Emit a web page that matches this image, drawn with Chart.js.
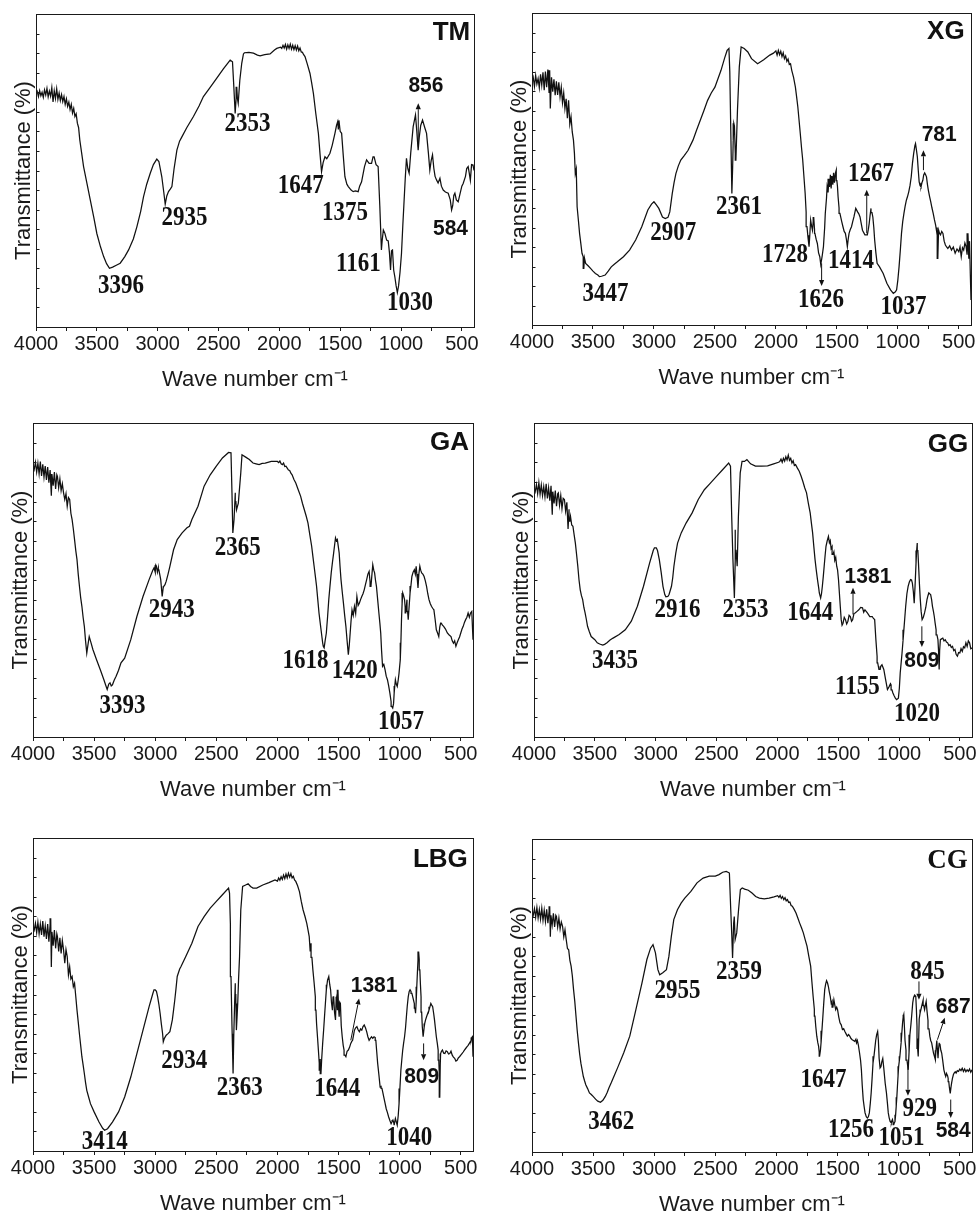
<!DOCTYPE html>
<html><head><meta charset="utf-8">
<script src="https://cdn.jsdelivr.net/npm/chart.js@4.4.1/dist/chart.umd.min.js"></script>
<style>
html,body{margin:0;padding:0;background:#fff;overflow:hidden;}
#fig{position:relative;width:978px;height:1215px;overflow:hidden;background:#fff;}
#fig canvas{position:absolute;}
</style></head><body><div id="fig"></div>
<script>
// ---------- spectra: [wave number, transmittance (arbitrary units, 0-80)] ----------
const tmSpectrum = [[4000,59.5],[3990,60.2],[3980,58.9],[3970,60.4],[3960,59.1],[3950,60.0],[3940,58.7],[3930,60.6],[3920,59.3],[3910,61.0],[3900,58.8],[3890,60.3],[3880,59.0],[3870,61.2],[3860,57.5],[3850,60.4],[3840,58.4],[3830,60.9],[3820,58.2],[3810,59.8],[3800,57.9],[3790,59.4],[3780,57.6],[3770,58.9],[3760,56.9],[3750,58.3],[3740,56.4],[3730,57.5],[3720,55.6],[3710,56.9],[3700,54.7],[3690,55.9],[3680,53.8],[3670,54.5],[3660,52.1],[3650,51.0],[3640,47.8],[3625,44.5],[3609,41.0],[3580,36.5],[3554,32.5],[3525,28.0],[3500,23.9],[3470,20.5],[3444,18.0],[3420,16.2],[3396,15.0],[3370,15.3],[3340,15.8],[3308,16.3],[3270,18.0],[3239,19.7],[3200,22.5],[3171,25.6],[3140,29.5],[3116,33.3],[3090,36.5],[3061,39.3],[3035,41.5],[3007,42.9],[2990,42.3],[2966,38.4],[2950,34.5],[2938,31.4],[2925,33.5],[2911,34.6],[2895,35.3],[2883,35.9],[2865,40.5],[2842,45.2],[2820,47.5],[2801,48.6],[2760,51.0],[2706,53.8],[2660,56.5],[2624,58.9],[2570,61.2],[2514,63.6],[2460,66.0],[2404,68.2],[2385,67.8],[2375,62.0],[2363,54.6],[2355,58.5],[2350,61.4],[2345,58.5],[2338,57.2],[2325,63.0],[2309,67.4],[2295,69.8],[2287,70.1],[2250,70.2],[2213,70.0],[2180,69.5],[2158,69.3],[2120,69.6],[2076,69.8],[2040,70.8],[2021,71.2],[1990,71.5],[1980,71.2],[1970,72.0],[1960,71.3],[1950,72.2],[1940,71.0],[1930,72.1],[1920,71.2],[1910,72.3],[1900,71.0],[1890,72.0],[1880,70.9],[1870,71.9],[1860,70.8],[1850,71.8],[1840,70.6],[1830,71.3],[1820,70.3],[1810,70.2],[1800,69.6],[1789,69.1],[1770,67.2],[1748,64.8],[1735,62.5],[1720,59.7],[1700,54.5],[1679,49.5],[1665,44.0],[1653,39.7],[1640,42.0],[1625,43.5],[1610,43.0],[1584,44.4],[1565,46.5],[1543,49.5],[1530,51.5],[1520,52.5],[1515,50.5],[1510,52.8],[1500,50.0],[1488,49.5],[1475,44.0],[1461,38.4],[1445,36.5],[1433,35.9],[1410,35.0],[1393,34.6],[1375,34.8],[1352,34.6],[1340,36.0],[1324,37.1],[1300,41.0],[1283,42.7],[1262,41.8],[1242,41.8],[1230,43.5],[1221,43.5],[1205,41.5],[1188,41.0],[1174,30.8],[1161,19.7],[1155,22.0],[1145,24.8],[1133,24.0],[1118,22.2],[1105,22.0],[1095,19.0],[1086,14.6],[1078,19.5],[1070,19.7],[1060,14.5],[1051,12.9],[1040,10.5],[1030,8.8],[1020,10.5],[1008,14.0],[996,18.8],[985,26.0],[977,30.8],[965,38.0],[955,43.1],[944,40.5],[933,39.3],[920,44.5],[900,51.2],[881,54.2],[870,50.0],[859,45.2],[850,48.5],[838,51.5],[823,52.9],[805,51.0],[790,49.5],[775,44.5],[763,40.1],[752,42.5],[741,44.0],[730,40.5],[720,38.5],[708,37.6],[695,36.8],[680,38.0],[668,36.0],[653,35.0],[635,34.5],[612,34.2],[595,32.5],[584,29.9],[575,31.0],[566,33.6],[557,34.2],[545,32.5],[530,32.0],[515,34.0],[500,36.0],[489,36.7],[470,38.5],[460,40.5],[448,41.0],[440,39.5],[430,37.5],[420,41.5],[408,41.4],[400,40.0]];

const xgSpectrum = [[4000,62.3],[3990,63.5],[3980,61.2],[3970,64.0],[3960,61.8],[3950,63.2],[3940,60.8],[3930,64.3],[3920,61.5],[3910,64.8],[3900,60.2],[3890,65.0],[3880,61.0],[3870,65.5],[3860,59.5],[3855,65.3],[3850,55.5],[3840,63.5],[3830,59.8],[3820,63.0],[3810,58.9],[3800,62.5],[3790,59.0],[3780,62.2],[3770,58.5],[3760,61.0],[3750,57.0],[3740,59.5],[3730,55.5],[3720,58.0],[3710,53.0],[3700,57.6],[3690,51.5],[3680,53.4],[3670,49.5],[3660,47.4],[3652,44.0],[3645,38.8],[3637,40.0],[3630,30.3],[3620,27.0],[3610,23.5],[3600,21.0],[3590,18.4],[3580,17.5],[3575,14.5],[3570,17.2],[3560,15.8],[3540,15.2],[3520,14.5],[3500,13.8],[3480,13.2],[3460,12.8],[3447,12.4],[3430,12.5],[3400,12.8],[3375,13.8],[3350,14.9],[3325,15.6],[3300,16.2],[3250,17.5],[3200,19.2],[3150,21.8],[3100,25.2],[3050,29.5],[3020,31.0],[3000,31.6],[2980,30.8],[2960,29.9],[2930,27.7],[2907,27.3],[2885,27.6],[2870,29.0],[2850,33.7],[2835,36.5],[2820,38.8],[2800,40.8],[2780,42.3],[2750,43.5],[2720,44.8],[2680,47.4],[2650,50.0],[2620,52.5],[2590,55.0],[2560,57.6],[2530,59.5],[2500,61.0],[2450,65.3],[2420,68.5],[2400,70.4],[2385,70.9],[2378,65.0],[2370,50.0],[2361,33.7],[2355,40.0],[2350,47.4],[2345,51.7],[2340,51.0],[2333,44.0],[2328,42.3],[2315,55.1],[2300,66.2],[2285,71.3],[2260,70.9],[2230,70.0],[2200,68.3],[2150,67.0],[2100,68.0],[2050,69.2],[2020,69.7],[2000,70.3],[1990,69.2],[1980,70.4],[1970,69.3],[1960,70.2],[1950,68.8],[1940,69.8],[1930,68.3],[1920,69.0],[1910,67.6],[1900,68.2],[1890,66.8],[1880,67.0],[1870,65.3],[1855,63.5],[1840,61.0],[1830,58.5],[1820,55.9],[1810,52.5],[1800,49.1],[1790,45.5],[1780,42.3],[1770,38.0],[1760,33.7],[1752,29.0],[1745,25.2],[1737,22.5],[1728,20.1],[1722,23.0],[1715,26.9],[1708,25.5],[1700,24.3],[1694,26.5],[1690,27.7],[1683,24.5],[1680,23.5],[1670,22.0],[1660,20.9],[1650,18.5],[1640,17.5],[1632,15.5],[1626,16.6],[1620,17.8],[1610,20.1],[1600,25.0],[1595,28.6],[1585,32.5],[1580,35.4],[1572,34.0],[1565,37.5],[1560,35.4],[1553,38.5],[1547,35.0],[1540,38.2],[1533,36.0],[1527,39.0],[1520,36.5],[1513,38.8],[1505,39.7],[1500,37.0],[1495,35.5],[1490,32.9],[1482,30.0],[1475,28.6],[1460,26.5],[1450,25.2],[1440,24.0],[1430,23.5],[1422,22.0],[1414,20.1],[1407,22.0],[1400,23.5],[1390,24.5],[1380,25.2],[1370,26.5],[1360,27.7],[1345,29.9],[1330,29.0],[1320,28.5],[1310,27.7],[1300,26.0],[1290,24.3],[1270,23.1],[1250,23.1],[1242,24.5],[1235,26.0],[1228,28.0],[1220,29.9],[1212,28.8],[1205,27.7],[1197,25.0],[1190,21.8],[1180,18.5],[1170,15.8],[1150,14.9],[1120,13.2],[1090,10.7],[1060,9.0],[1037,8.1],[1020,8.5],[1010,9.0],[1000,11.5],[990,14.9],[980,19.0],[970,23.5],[960,26.5],[950,28.6],[940,30.5],[930,32.0],[920,33.0],[910,34.2],[900,35.8],[890,38.0],[880,41.5],[870,44.0],[860,46.0],[855,46.5],[848,45.0],[840,43.1],[832,39.5],[825,36.7],[818,35.8],[810,35.4],[802,36.5],[795,37.1],[788,38.5],[780,39.0],[772,38.5],[765,38.0],[757,36.0],[750,34.6],[740,33.0],[730,31.6],[720,30.0],[710,28.6],[700,27.0],[690,25.6],[682,24.0],[677,25.0],[672,17.1],[668,22.0],[665,24.3],[658,23.5],[650,23.1],[640,24.0],[630,23.5],[620,21.5],[610,20.5],[600,20.0],[590,19.6],[575,20.3],[560,19.2],[545,20.0],[530,18.4],[515,19.5],[500,18.8],[490,20.0],[480,17.5],[470,19.8],[460,19.2],[450,21.0],[440,20.1],[432,18.0],[425,23.5],[418,17.0],[412,21.5],[405,12.4],[400,6.4]];

const gaSpectrum = [[4000,69.4],[3990,68.2],[3980,70.0],[3970,67.5],[3960,69.8],[3950,67.0],[3940,70.2],[3930,66.5],[3920,69.5],[3910,66.2],[3900,69.0],[3890,65.5],[3880,68.8],[3870,64.8],[3860,68.0],[3850,61.5],[3845,67.0],[3835,64.0],[3825,67.5],[3815,63.2],[3805,66.8],[3800,66.4],[3790,63.5],[3780,65.8],[3770,62.8],[3760,64.5],[3750,62.2],[3740,60.5],[3730,62.0],[3720,58.8],[3710,61.0],[3700,60.5],[3690,57.0],[3680,55.4],[3670,53.0],[3660,50.3],[3650,47.5],[3640,45.2],[3630,41.5],[3620,38.4],[3610,35.5],[3600,33.3],[3590,30.5],[3580,28.2],[3570,24.5],[3560,21.4],[3548,24.0],[3540,25.6],[3525,24.0],[3510,22.3],[3480,19.7],[3450,17.2],[3420,14.6],[3405,13.2],[3393,12.1],[3380,13.5],[3370,13.8],[3360,13.0],[3350,13.3],[3335,14.5],[3320,15.5],[3300,17.0],[3280,18.9],[3250,20.1],[3200,24.8],[3150,30.7],[3100,35.8],[3050,40.1],[3020,42.5],[3010,43.1],[3000,42.0],[2995,43.8],[2990,43.5],[2982,42.0],[2975,43.0],[2970,42.6],[2955,40.1],[2943,35.8],[2935,38.0],[2930,38.4],[2920,38.8],[2910,39.7],[2895,41.5],[2880,43.5],[2850,47.7],[2820,50.3],[2780,52.0],[2740,53.3],[2720,53.7],[2700,55.4],[2650,58.8],[2600,63.9],[2550,66.8],[2500,69.0],[2450,71.1],[2400,72.5],[2380,72.4],[2372,62.2],[2365,52.0],[2355,55.4],[2345,62.2],[2340,60.0],[2335,57.9],[2320,59.6],[2300,67.3],[2290,71.9],[2260,71.3],[2230,70.7],[2200,69.8],[2175,69.6],[2150,69.4],[2125,69.7],[2100,69.8],[2050,70.2],[2000,70.2],[1990,69.9],[1980,70.3],[1970,69.6],[1960,69.4],[1950,69.8],[1940,68.9],[1930,69.0],[1920,68.5],[1910,68.0],[1900,67.9],[1890,67.2],[1880,66.8],[1865,65.6],[1850,64.7],[1830,63.0],[1810,61.3],[1795,59.5],[1780,57.9],[1765,56.3],[1750,54.5],[1735,51.5],[1720,48.6],[1710,46.0],[1700,43.5],[1690,41.0],[1680,38.4],[1670,35.0],[1660,31.6],[1650,29.0],[1640,26.5],[1630,24.0],[1625,23.1],[1618,22.7],[1610,24.5],[1600,26.5],[1590,30.5],[1580,35.0],[1570,38.5],[1560,41.8],[1550,44.5],[1540,46.9],[1530,49.5],[1525,50.7],[1518,50.0],[1510,50.3],[1502,48.5],[1495,46.9],[1488,43.5],[1480,40.1],[1470,37.0],[1460,34.1],[1450,31.0],[1440,28.2],[1430,24.5],[1420,21.0],[1412,23.5],[1405,26.5],[1398,29.5],[1390,32.4],[1380,31.0],[1370,33.3],[1360,31.5],[1350,35.8],[1340,33.5],[1330,34.1],[1320,35.0],[1310,35.8],[1300,36.5],[1290,37.5],[1280,38.8],[1270,40.1],[1260,41.5],[1250,42.2],[1242,39.5],[1235,38.4],[1228,41.0],[1220,43.9],[1212,42.5],[1205,41.8],[1198,40.0],[1190,38.4],[1180,35.0],[1170,31.6],[1162,29.0],[1155,26.5],[1148,22.0],[1140,18.0],[1130,18.5],[1120,17.2],[1110,15.5],[1100,14.6],[1090,13.0],[1080,11.2],[1070,9.0],[1065,7.8],[1057,7.4],[1050,8.5],[1045,11.2],[1040,13.0],[1035,14.6],[1028,13.5],[1020,12.9],[1012,14.5],[1005,16.3],[995,19.7],[990,24.0],[985,29.9],[980,34.0],[975,36.7],[968,36.0],[960,35.0],[955,33.0],[950,31.6],[945,33.5],[940,35.0],[935,32.0],[930,29.9],[922,33.5],[915,36.7],[908,38.5],[900,40.9],[890,42.0],[880,42.6],[872,41.5],[865,43.5],[858,41.0],[850,38.0],[843,41.5],[835,43.5],[828,42.5],[820,41.8],[810,41.5],[800,40.9],[790,39.8],[780,38.4],[770,36.5],[760,35.0],[750,34.0],[740,33.3],[730,32.8],[720,32.4],[710,30.0],[700,27.3],[690,26.5],[680,25.6],[672,28.0],[665,29.0],[660,29.0],[650,28.5],[640,28.2],[625,27.5],[610,26.5],[595,26.0],[580,25.6],[570,24.5],[560,23.9],[550,24.5],[540,23.1],[530,24.0],[520,24.8],[510,25.5],[500,26.5],[490,27.5],[480,28.2],[470,29.2],[460,29.9],[450,30.5],[440,31.6],[430,30.5],[420,31.6],[410,32.0],[400,24.8]];

const ggSpectrum = [[4000,63.4],[3990,62.5],[3980,64.3],[3970,62.0],[3960,64.8],[3950,61.8],[3940,64.2],[3930,61.5],[3920,63.8],[3910,61.2],[3900,64.5],[3890,60.8],[3880,63.5],[3870,60.2],[3860,64.0],[3850,56.6],[3845,62.5],[3835,59.5],[3825,62.8],[3815,58.8],[3805,62.0],[3800,62.2],[3790,59.0],[3780,61.5],[3770,58.2],[3760,60.8],[3750,60.5],[3740,57.5],[3730,59.8],[3720,53.0],[3712,58.0],[3705,55.0],[3700,56.2],[3690,54.0],[3680,53.7],[3670,51.5],[3660,49.4],[3650,46.5],[3640,43.5],[3630,40.0],[3620,37.5],[3610,36.0],[3600,35.0],[3590,33.0],[3580,31.6],[3570,30.0],[3560,28.2],[3545,26.8],[3530,25.6],[3500,24.8],[3480,24.0],[3460,23.7],[3435,23.4],[3420,23.6],[3400,24.0],[3375,24.7],[3350,25.2],[3300,26.1],[3250,27.3],[3200,29.5],[3150,33.3],[3100,38.4],[3050,44.3],[3020,47.5],[3010,48.2],[2995,48.2],[2985,47.5],[2970,45.2],[2955,42.0],[2940,38.4],[2925,36.3],[2916,35.7],[2900,35.8],[2890,36.3],[2870,38.4],[2860,40.5],[2850,43.5],[2835,46.8],[2820,49.4],[2790,52.0],[2750,54.5],[2700,57.1],[2650,60.5],[2600,63.0],[2550,64.7],[2500,66.4],[2450,68.1],[2400,69.8],[2385,69.0],[2375,56.2],[2365,45.2],[2353,35.4],[2347,45.0],[2345,52.8],[2340,47.7],[2330,43.5],[2320,56.2],[2305,67.3],[2290,70.2],[2270,70.2],[2250,70.7],[2220,69.6],[2180,69.0],[2130,69.0],[2080,69.1],[2030,69.6],[1990,70.0],[1980,70.2],[1970,70.8],[1960,70.0],[1950,71.0],[1940,70.3],[1930,71.4],[1920,70.6],[1910,71.8],[1900,70.5],[1890,71.0],[1880,69.8],[1870,70.4],[1860,69.2],[1850,69.4],[1835,68.5],[1820,67.7],[1805,66.5],[1790,65.1],[1775,63.5],[1760,62.2],[1745,59.5],[1730,57.1],[1720,54.5],[1710,52.0],[1700,48.5],[1690,45.2],[1680,42.5],[1670,40.1],[1660,38.0],[1655,36.7],[1644,35.4],[1637,36.5],[1630,38.4],[1622,41.0],[1615,43.5],[1608,46.0],[1600,48.6],[1590,50.0],[1580,51.1],[1572,49.5],[1565,50.0],[1558,48.0],[1550,48.5],[1543,46.5],[1535,47.2],[1528,45.0],[1520,45.8],[1512,43.5],[1505,42.6],[1497,40.0],[1490,36.7],[1482,33.0],[1475,29.9],[1468,28.5],[1460,29.0],[1450,30.5],[1440,29.9],[1430,28.8],[1420,29.5],[1410,31.0],[1400,30.7],[1390,29.5],[1381,29.9],[1370,31.5],[1360,31.6],[1345,32.0],[1330,32.4],[1315,33.0],[1300,32.9],[1290,31.8],[1280,32.4],[1260,31.6],[1240,30.7],[1220,30.7],[1210,30.2],[1200,29.9],[1190,24.8],[1180,20.5],[1175,18.9],[1165,17.2],[1155,17.2],[1150,18.0],[1140,18.4],[1125,17.2],[1110,14.6],[1095,12.1],[1080,12.9],[1070,13.6],[1065,13.3],[1058,12.0],[1050,11.2],[1040,10.5],[1030,9.9],[1020,9.5],[1005,9.9],[997,12.5],[990,16.3],[982,19.0],[975,21.4],[967,24.5],[960,27.3],[952,30.5],[945,33.3],[935,36.5],[925,38.4],[915,39.5],[905,40.1],[897,40.0],[890,39.2],[882,37.0],[875,34.1],[868,38.5],[860,44.3],[855,47.5],[850,49.4],[845,47.5],[840,44.3],[832,39.0],[825,35.0],[818,32.0],[810,29.9],[800,30.5],[790,31.6],[780,33.0],[770,35.0],[762,36.0],[755,36.7],[748,36.5],[740,36.3],[732,35.0],[725,33.3],[717,32.0],[710,30.7],[703,29.0],[695,27.3],[688,26.0],[680,24.8],[675,22.0],[670,17.2],[666,22.0],[660,24.8],[650,25.0],[640,25.2],[630,24.5],[620,24.8],[610,24.2],[600,24.0],[590,23.3],[580,23.5],[570,22.8],[560,23.1],[550,22.0],[540,22.3],[530,21.0],[520,20.6],[510,21.5],[500,21.4],[490,22.5],[480,21.8],[470,23.0],[460,22.7],[450,24.0],[440,23.1],[430,24.5],[420,24.0],[410,22.5],[400,22.7]];

const lbgSpectrum = [[4000,57.4],[3990,56.5],[3980,58.2],[3970,55.8],[3960,58.5],[3950,55.5],[3940,58.0],[3930,55.2],[3920,58.8],[3910,54.8],[3900,57.5],[3890,54.2],[3880,58.0],[3870,53.5],[3860,57.8],[3855,59.5],[3850,47.0],[3845,56.0],[3835,52.5],[3825,56.5],[3815,51.8],[3805,55.5],[3800,54.8],[3790,51.0],[3780,54.5],[3770,50.5],[3760,53.8],[3750,51.4],[3740,48.0],[3730,51.5],[3720,49.7],[3710,45.0],[3700,47.1],[3690,44.0],[3680,44.6],[3670,42.0],[3660,42.9],[3650,39.5],[3640,36.0],[3630,33.0],[3620,29.9],[3610,27.0],[3600,24.1],[3590,22.0],[3580,19.8],[3570,17.5],[3560,15.5],[3545,13.8],[3530,12.1],[3500,10.0],[3460,7.4],[3430,5.8],[3414,5.3],[3390,5.7],[3350,7.4],[3300,10.0],[3250,13.8],[3200,18.9],[3150,24.9],[3100,30.9],[3050,36.9],[3020,40.2],[3010,41.2],[3000,41.2],[2990,40.8],[2980,39.4],[2970,37.5],[2960,35.2],[2950,32.5],[2940,30.1],[2934,27.9],[2925,28.8],[2910,29.6],[2895,30.0],[2880,30.5],[2870,32.0],[2860,33.5],[2850,36.0],[2840,38.6],[2830,41.5],[2820,44.6],[2800,46.5],[2790,47.1],[2750,49.7],[2700,53.1],[2650,57.4],[2600,59.9],[2550,62.1],[2500,63.8],[2450,65.5],[2400,67.2],[2392,65.9],[2385,58.0],[2380,44.6],[2372,32.0],[2363,19.8],[2357,30.0],[2350,38.0],[2345,42.9],[2341,40.0],[2336,30.9],[2330,34.5],[2325,37.7],[2318,44.0],[2310,49.7],[2300,61.6],[2285,67.6],[2260,68.0],[2240,68.3],[2220,67.6],[2200,67.2],[2170,67.2],[2120,68.0],[2070,68.6],[2020,69.3],[2000,69.0],[1990,69.8],[1980,69.2],[1970,70.1],[1960,69.4],[1950,70.5],[1940,69.6],[1930,70.8],[1920,69.8],[1910,71.0],[1900,70.0],[1890,70.9],[1880,69.8],[1870,70.2],[1860,69.3],[1850,68.9],[1835,67.8],[1820,66.3],[1805,63.8],[1790,61.6],[1775,60.0],[1760,58.2],[1750,56.5],[1740,54.8],[1732,51.0],[1725,53.1],[1718,49.5],[1710,46.3],[1700,43.0],[1690,39.4],[1685,36.0],[1680,32.6],[1672,29.0],[1665,25.8],[1658,22.5],[1655,20.7],[1650,23.5],[1644,19.8],[1638,23.5],[1630,27.5],[1622,31.0],[1615,34.3],[1607,38.0],[1600,41.2],[1595,42.5],[1590,43.7],[1580,44.6],[1572,42.5],[1565,41.2],[1558,38.0],[1550,36.0],[1545,39.5],[1540,39.4],[1533,35.5],[1525,33.5],[1520,38.5],[1515,39.4],[1510,36.0],[1505,41.2],[1500,36.5],[1495,34.3],[1490,38.0],[1485,37.7],[1478,32.0],[1470,29.2],[1462,27.0],[1455,25.8],[1448,24.5],[1440,24.1],[1430,25.5],[1420,25.8],[1410,26.5],[1400,27.5],[1392,28.0],[1385,28.3],[1378,29.5],[1370,30.9],[1360,31.5],[1350,31.8],[1340,31.0],[1330,30.5],[1320,31.2],[1310,30.9],[1300,31.8],[1290,32.2],[1280,31.5],[1270,30.5],[1260,29.2],[1250,28.3],[1240,28.8],[1230,29.2],[1220,28.8],[1210,29.2],[1200,29.0],[1195,28.3],[1188,25.5],[1180,22.4],[1170,19.5],[1160,16.4],[1152,16.5],[1145,16.0],[1138,15.0],[1130,13.8],[1120,12.3],[1110,10.8],[1100,9.8],[1090,8.7],[1080,7.8],[1070,7.0],[1062,7.5],[1055,7.9],[1048,7.2],[1045,6.6],[1040,7.5],[1035,8.3],[1028,7.5],[1020,6.6],[1012,9.0],[1005,12.1],[998,16.0],[990,20.7],[982,23.5],[975,25.8],[968,27.5],[960,29.2],[952,31.5],[945,34.3],[938,37.0],[930,39.4],[922,40.8],[915,41.2],[907,40.8],[900,40.3],[890,39.0],[880,37.7],[875,36.5],[870,35.2],[865,38.0],[860,42.0],[855,45.5],[850,48.8],[845,51.0],[840,49.0],[835,46.3],[830,42.5],[825,39.4],[820,35.5],[815,31.8],[808,29.2],[800,31.5],[795,32.6],[788,33.5],[780,34.3],[770,35.2],[760,36.0],[752,36.9],[745,37.7],[738,37.3],[730,36.9],[722,35.2],[715,33.5],[708,31.5],[700,29.2],[692,27.5],[685,25.8],[680,23.2],[676,20.0],[672,13.8],[668,22.0],[665,24.9],[658,25.5],[650,25.8],[640,25.0],[630,24.9],[620,25.6],[610,25.4],[600,24.8],[590,24.9],[580,25.5],[570,24.5],[560,24.0],[550,23.7],[540,23.0],[530,23.2],[520,23.8],[510,24.1],[500,24.5],[490,24.9],[480,25.3],[470,25.8],[460,26.2],[450,26.6],[440,27.0],[430,27.5],[420,28.0],[415,28.3],[410,29.0],[405,29.2],[400,24.1]];

const cgSpectrum = [[4000,61.5],[3990,60.5],[3980,62.2],[3970,60.0],[3960,62.5],[3950,59.8],[3940,62.0],[3930,59.5],[3920,62.3],[3910,59.2],[3900,61.8],[3890,58.9],[3880,62.0],[3870,58.5],[3860,61.5],[3855,62.8],[3850,55.0],[3845,60.5],[3835,58.0],[3825,61.0],[3815,57.5],[3805,60.5],[3800,60.2],[3790,57.5],[3780,59.8],[3770,57.0],[3760,58.8],[3750,57.7],[3740,55.0],[3730,56.8],[3720,54.3],[3710,52.0],[3700,51.7],[3690,49.0],[3680,47.5],[3670,45.0],[3660,41.5],[3650,38.5],[3640,34.7],[3630,31.0],[3620,27.9],[3610,25.0],[3600,22.7],[3590,21.0],[3580,19.3],[3570,18.2],[3560,17.2],[3545,16.2],[3530,15.1],[3515,14.7],[3500,14.2],[3480,13.5],[3462,13.0],[3440,12.7],[3420,13.2],[3400,14.2],[3385,15.2],[3370,16.4],[3350,17.8],[3330,19.3],[3300,21.5],[3250,25.3],[3200,29.6],[3150,36.4],[3100,43.2],[3060,49.2],[3030,52.1],[3010,53.0],[2990,50.9],[2970,46.6],[2955,45.3],[2930,45.8],[2900,46.6],[2880,50.0],[2860,55.1],[2840,59.4],[2810,61.9],[2780,63.6],[2750,64.9],[2700,66.6],[2650,68.8],[2600,70.0],[2550,70.5],[2500,70.5],[2470,70.9],[2440,71.5],[2410,71.7],[2385,71.3],[2375,62.8],[2365,55.1],[2359,49.6],[2350,58.5],[2345,60.2],[2338,54.3],[2325,56.0],[2310,61.9],[2295,67.1],[2280,67.5],[2260,67.2],[2230,66.9],[2200,66.2],[2170,65.3],[2140,64.9],[2100,64.7],[2060,64.9],[2020,65.2],[1990,65.5],[1980,65.1],[1970,65.6],[1960,64.8],[1950,65.3],[1940,64.5],[1930,65.0],[1920,64.2],[1910,64.5],[1900,63.8],[1890,63.9],[1880,63.0],[1870,62.8],[1855,62.0],[1840,61.1],[1825,59.8],[1810,58.5],[1795,57.3],[1780,56.0],[1765,54.3],[1750,52.6],[1735,50.0],[1720,47.5],[1710,43.5],[1700,39.8],[1690,36.5],[1685,34.7],[1678,32.0],[1670,29.6],[1662,28.0],[1655,27.0],[1650,25.5],[1647,24.5],[1640,26.0],[1635,27.9],[1628,31.0],[1620,34.7],[1612,38.5],[1605,41.5],[1597,43.0],[1590,43.8],[1582,43.2],[1575,42.3],[1568,41.0],[1560,39.8],[1552,38.0],[1545,38.5],[1538,37.0],[1530,38.9],[1522,37.5],[1515,36.4],[1507,37.0],[1500,36.4],[1490,34.5],[1480,33.0],[1470,32.5],[1460,31.3],[1450,31.5],[1440,30.8],[1430,30.2],[1420,29.6],[1410,30.0],[1400,29.6],[1390,29.0],[1380,28.7],[1370,28.5],[1360,28.3],[1350,28.8],[1345,27.9],[1338,28.5],[1330,27.4],[1320,25.3],[1312,23.5],[1305,21.0],[1298,17.0],[1290,13.4],[1282,11.5],[1275,10.0],[1265,9.0],[1256,8.7],[1248,9.0],[1240,10.0],[1232,12.5],[1225,15.1],[1218,18.5],[1210,22.7],[1202,24.5],[1195,26.5],[1188,28.5],[1180,30.0],[1172,30.8],[1166,28.5],[1160,24.0],[1152,21.5],[1145,21.8],[1138,23.0],[1130,23.9],[1122,21.5],[1110,17.5],[1100,15.1],[1092,12.5],[1085,10.0],[1078,8.8],[1070,7.8],[1060,7.4],[1055,8.0],[1051,8.3],[1045,7.5],[1040,7.0],[1035,7.5],[1030,7.8],[1025,9.5],[1020,11.7],[1015,14.0],[1010,16.8],[1005,19.5],[1000,21.9],[995,23.2],[990,24.5],[985,26.2],[980,27.9],[974,30.5],[968,33.0],[963,34.5],[958,35.1],[953,32.0],[948,28.5],[940,26.0],[932,23.5],[922,21.0],[915,25.5],[908,30.0],[900,32.5],[893,35.0],[885,38.1],[878,39.5],[869,40.1],[865,40.0],[860,39.8],[855,36.5],[850,32.1],[845,26.5],[840,24.4],[836,29.0],[832,34.0],[825,35.5],[818,36.4],[810,37.5],[800,38.8],[795,37.5],[788,36.4],[782,37.5],[775,38.5],[768,36.0],[760,33.6],[752,31.5],[745,29.6],[738,28.5],[730,27.9],[722,26.5],[715,25.3],[708,24.5],[700,23.6],[695,26.0],[688,28.5],[683,26.0],[678,24.0],[673,26.5],[668,27.9],[662,27.5],[655,26.0],[648,25.3],[640,23.5],[630,21.0],[622,20.0],[615,19.3],[609,20.1],[600,19.5],[595,18.8],[590,18.0],[585,16.5],[578,15.0],[572,16.5],[567,17.6],[560,18.8],[552,19.8],[545,20.2],[537,20.5],[530,20.2],[520,20.8],[510,20.6],[500,21.2],[490,20.8],[480,21.4],[470,20.6],[460,21.2],[450,20.5],[440,21.0],[430,20.6],[420,21.2],[410,20.4],[400,21.0]];

// ---------- peak labels: [text, wave number, transmittance, style] ----------
const tmLabels = [['3396',3302,10.5,'s'],['2935',2779,27.8,'s'],['2353',2262,51.8,'s'],['1647',1824,35.9,'s'],['1375',1460,29.1,'s'],['1161',1351,16.1,'s'],['1030',927,6.0,'s'],['856',795,61.6,'a'],['584',593,25.0,'a'],['TM',585,75.3,'A']];
const xgLabels = [['3447',3398,7.9,'s'],['2907',2842,23.5,'s'],['2361',2303,30.1,'s'],['1728',1926,17.9,'s'],['1626',1630,6.4,'s'],['1414',1384,16.5,'s'],['1037',954,4.5,'s'],['1267',1220,38.7,'s'],['781',661,48.7,'a'],['XG',606,75.1,'A']];
const gaLabels = [['3393',3267,7.8,'s'],['2943',2864,32.3,'s'],['2365',2325,48.2,'s'],['1618',1770,19.4,'s'],['1420',1367,16.7,'s'],['1057',990,3.7,'s'],['GA',593,74.9,'A']];
const ggLabels = [['3435',3335,19.3,'s'],['2916',2820,32.3,'s'],['2353',2262,32.3,'s'],['1644',1729,31.6,'s'],['1381',1255,40.9,'a'],['1155',1343,12.7,'s'],['1020',853,5.9,'s'],['809',812,19.5,'a'],['GG',598,74.5,'A']];
const lbgLabels = [['3414',3412,2.3,'s'],['2934',2763,23.1,'s'],['2363',2309,16.0,'s'],['1644',1510,15.8,'s'],['1381',1209,42.2,'a'],['1040',921,3.4,'s'],['809',820,19.0,'a'],['LBG',667,74.4,'A']];
const cgLabels = [['3462',3351,7.6,'s'],['2955',2810,41.1,'s'],['2359',2306,46.0,'s'],['1647',1614,18.5,'s'],['1256',1389,5.7,'s'],['1051',976,3.6,'s'],['929',828,11.0,'s'],['845',765,45.9,'s'],['687',554,37.1,'a'],['584',554,5.3,'a'],['CG',601,74.5,'S']];

// ---------- arrows: [from wave, from T, to wave, to T] (head at "to") ----------
const tmArrows = [[858,46.1,858,57.2]];
const xgArrows = [[1625,15.8,1625,10.0],[1255,23.5,1255,34.7],[790,39.7,790,44.8]];
const gaArrows = [];
const ggArrows = [[1378,31.2,1378,38.0],[812,28.2,812,22.9]];
const lbgArrows = [[1400,28.3,1332,39.0],[804,27.5,804,23.2]];
const cgArrows = [[924,21.9,924,14.4],[834,43.6,834,38.9],[683,28.7,623,34.3],[574,13.4,574,8.7]];

// ---------- axis settings ----------
const waveMin = 400, waveMax = 4000, waveStep = 250, waveLabelStep = 500;
const tMin = 0, tMax = 80, tStep = 5;
const xTitle = 'Wave number cm\u207B\u00B9';
const yTitle = 'Transmittance (%)';

const SANS = "'Liberation Sans', Arial, Helvetica, sans-serif";
const SERIF = "'Liberation Serif', 'Times New Roman', Times, serif";
// label styles: font and vertical stretch
const FONTS = {
  s: ['bold 23px ' + SERIF, 1.16],
  a: ['bold 21px ' + SANS, 1.05],
  A: ['bold 26px ' + SANS, 1.0],
  S: ['bold 27px ' + SERIF, 1.05]
};

const framePlugin = {
  id: 'frame',
  afterDraw(chart, args, o) {
    const {ctx, chartArea: a, scales: {x, y}} = chart;
    ctx.save();
    ctx.strokeStyle = '#1a1a1a';
    ctx.lineWidth = 1;
    const l = Math.round(a.left) + 0.5, t = Math.round(a.top) + 0.5;
    const r = Math.round(a.right) + 0.5, b = Math.round(a.bottom) + 0.5;
    ctx.strokeRect(l, t, r - l, b - t);
    ctx.beginPath();
    y.ticks.forEach(tk => {
      if (tk.value <= tMin || tk.value >= tMax) return;
      const py = Math.round(y.getPixelForValue(tk.value)) + 0.5;
      ctx.moveTo(l, py); ctx.lineTo(l + 3, py);
    });
    ctx.stroke();
    ctx.fillStyle = '#111';
    ctx.textAlign = 'center';
    ctx.textBaseline = 'middle';
    (o.labels || []).forEach(([txt, w, v, f]) => {
      const [font, sy] = FONTS[f];
      ctx.save();
      ctx.translate(x.getPixelForValue(w), y.getPixelForValue(v));
      ctx.scale(1, sy);
      ctx.font = font;
      ctx.fillText(txt, 0, 0);
      ctx.restore();
    });
    ctx.strokeStyle = '#111';
    (o.arrows || []).forEach(([w1, v1, w2, v2]) => {
      const x1 = x.getPixelForValue(w1), y1 = y.getPixelForValue(v1);
      const x2 = x.getPixelForValue(w2), y2 = y.getPixelForValue(v2);
      const ang = Math.atan2(y2 - y1, x2 - x1);
      const hl = 6, hw = 2.6;
      const bx = x2 - hl * Math.cos(ang), by = y2 - hl * Math.sin(ang);
      ctx.beginPath(); ctx.moveTo(x1, y1); ctx.lineTo(bx, by); ctx.stroke();
      ctx.beginPath();
      ctx.moveTo(x2, y2);
      ctx.lineTo(bx + hw * Math.sin(ang), by - hw * Math.cos(ang));
      ctx.lineTo(bx - hw * Math.sin(ang), by + hw * Math.cos(ang));
      ctx.closePath(); ctx.fill();
    });
    ctx.restore();
  }
};

const panels = [
  {spec: tmSpectrum, labels: tmLabels, arrows: tmArrows, box: [0, 0, 489, 400], padTop: 14, padRight: 15, yW: 36, xH: 73},
  {spec: xgSpectrum, labels: xgLabels, arrows: xgArrows, box: [489, 0, 489, 398], padTop: 13, padRight: 7, yW: 43, xH: 73},
  {spec: gaSpectrum, labels: gaLabels, arrows: gaArrows, box: [0, 400, 489, 410], padTop: 23, padRight: 16, yW: 33, xH: 73},
  {spec: ggSpectrum, labels: ggLabels, arrows: ggArrows, box: [489, 400, 489, 410], padTop: 23, padRight: 6, yW: 45, xH: 73},
  {spec: lbgSpectrum, labels: lbgLabels, arrows: lbgArrows, box: [0, 810, 489, 414], padTop: 28, padRight: 16, yW: 33, xH: 73},
  {spec: cgSpectrum, labels: cgLabels, arrows: cgArrows, box: [489, 810, 489, 415], padTop: 29, padRight: 6, yW: 43, xH: 73}
];

const fig = document.getElementById('fig');
panels.forEach(p => {
  const c = document.createElement('canvas');
  c.width = p.box[2]; c.height = p.box[3];
  c.style.left = p.box[0] + 'px'; c.style.top = p.box[1] + 'px';
  c.style.width = p.box[2] + 'px'; c.style.height = p.box[3] + 'px';
  fig.appendChild(c);
  const pts = p.spec.map(([w, v]) => ({x: w, y: v})).sort((a, b) => a.x - b.x);
  new Chart(c, {
    type: 'line',
    data: {datasets: [{data: pts, borderColor: '#111', borderWidth: 1.25, pointRadius: 0, tension: 0, fill: false}]},
    options: {
      responsive: false, animation: false, devicePixelRatio: 1,
      layout: {padding: {left: 0, top: p.padTop, right: p.padRight, bottom: 0}},
      plugins: {legend: {display: false}, tooltip: {enabled: false}, frame: {labels: p.labels, arrows: p.arrows}},
      scales: {
        x: {
          type: 'linear', reverse: true, min: waveMin, max: waveMax,
          afterFit: s => { s.height = p.xH; },
          border: {display: false},
          grid: {display: true, drawOnChartArea: false, drawTicks: true, tickLength: 4, color: '#1a1a1a', lineWidth: 1},
          ticks: {stepSize: waveStep, includeBounds: false, autoSkip: false, maxRotation: 0, minRotation: 0, padding: 1,
                  color: '#1a1a1a', font: {family: SANS, size: 20},
                  callback: v => (v % waveLabelStep === 0 ? String(v) : '')},
          title: {display: true, text: xTitle, color: '#1a1a1a', font: {family: SANS, size: 22}, padding: {top: 0, bottom: 6.8}}
        },
        y: {
          type: 'linear', min: tMin, max: tMax,
          afterFit: s => { s.width = p.yW; },
          border: {display: false},
          grid: {display: false},
          ticks: {display: false, stepSize: tStep},
          title: {display: true, text: yTitle, color: '#1a1a1a', font: {family: SANS, size: 22}, padding: {top: p.yW - 25, bottom: 0}}
        }
      }
    },
    plugins: [framePlugin]
  });
});
</script>
</body></html>
